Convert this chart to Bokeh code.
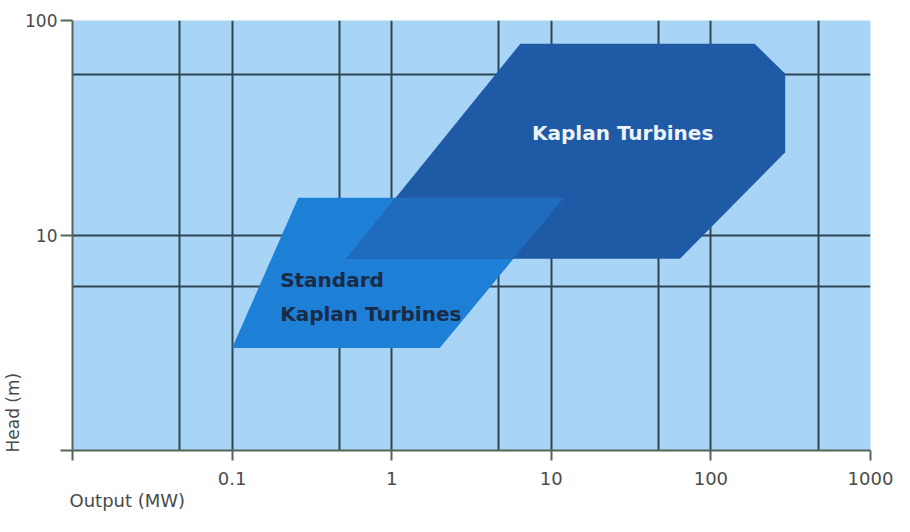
import math
from bokeh.plotting import figure
from bokeh.models import FixedTicker, CustomJSTickFormatter, Label, Title
from bokeh.embed import file_html
from bokeh.resources import INLINE

# ---- data ----
X_TICKS = [0.01, 0.1, 1, 10, 100, 1000]
X_TICK_LABELS = ["", "0.1", "1", "10", "100", "1000"]
Y_TICKS = [1, 10, 100]
Y_TICK_LABELS = ["", "10", "100"]
X_GRID = [0.01, 0.047, 0.1, 0.47, 1, 4.7, 10, 47, 100, 470, 1000]
Y_GRID = [1, 5.8, 10, 56, 100]

STD_X = [0.1, 2.0, 12.0, 0.26]
STD_Y = [3.0, 3.0, 15.0, 15.0]
KAP_X = [0.52, 6.4, 188.0, 292.0, 292.0, 64.0]
KAP_Y = [7.8, 78.0, 78.0, 56.5, 24.4, 7.8]

KAP_LABEL = ("Kaplan Turbines", 28.0, 30.0)
STD_LABEL_1 = ("Standard", 0.2, 6.2)
STD_LABEL_2 = ("Kaplan Turbines", 0.2, 4.3)

BG = "#a8d5f5"
STD_COLOR = "#1e7fd6"
KAP_COLOR = "#1e5aa6"
OVERLAP_COLOR = "#1f6bbd"
GRID_COLOR = "#2e4450"
AXIS_COLOR = "#55655a"
TEXT_GRAY = "#4a4a4a"


def clip_polygon(subject, clipper):
    """Sutherland-Hodgman clipping in log space (both convex)."""
    def area(poly):
        s = 0.0
        for i in range(len(poly)):
            x1, y1 = poly[i]
            x2, y2 = poly[(i + 1) % len(poly)]
            s += x1 * y2 - x2 * y1
        return s
    sign = 1.0 if area(clipper) > 0 else -1.0

    def inside(pt, a, b):
        return sign * ((b[0] - a[0]) * (pt[1] - a[1]) - (b[1] - a[1]) * (pt[0] - a[0])) >= 0

    def inter(p1, p2, a, b):
        x1, y1 = p1; x2, y2 = p2; x3, y3 = a; x4, y4 = b
        den = (x1 - x2) * (y3 - y4) - (y1 - y2) * (x3 - x4)
        t = ((x1 - x3) * (y3 - y4) - (y1 - y3) * (x3 - x4)) / den
        return (x1 + t * (x2 - x1), y1 + t * (y2 - y1))

    out = list(subject)
    for i in range(len(clipper)):
        a, b = clipper[i], clipper[(i + 1) % len(clipper)]
        inp, out = out, []
        if not inp:
            break
        for j in range(len(inp)):
            cur, prev = inp[j], inp[j - 1]
            if inside(cur, a, b):
                if not inside(prev, a, b):
                    out.append(inter(prev, cur, a, b))
                out.append(cur)
            elif inside(prev, a, b):
                out.append(inter(prev, cur, a, b))
    return out


def to_log(xs, ys):
    return [(math.log10(x), math.log10(y)) for x, y in zip(xs, ys)]


ov = clip_polygon(to_log(KAP_X, KAP_Y), to_log(STD_X, STD_Y))
OV_X = [10 ** q[0] for q in ov]
OV_Y = [10 ** q[1] for q in ov]

p = figure(width=894, height=516, x_axis_type="log", y_axis_type="log",
           x_range=(X_TICKS[0], X_TICKS[-1]), y_range=(Y_TICKS[0], Y_TICKS[-1]),
           output_backend="svg", toolbar_location=None,
           min_border_left=71, min_border_right=24, min_border_top=20, min_border_bottom=66)

p.background_fill_color = BG
p.border_fill_color = "white"
p.outline_line_color = None

# grid
for g, vals in ((p.xgrid, X_GRID), (p.ygrid, Y_GRID)):
    g.ticker = FixedTicker(ticks=vals)
    g.grid_line_color = GRID_COLOR
    g.grid_line_width = 2
    g.grid_line_alpha = 1.0

# shapes
p.patch(STD_X, STD_Y, fill_color=STD_COLOR, line_color=None)
p.patch(KAP_X, KAP_Y, fill_color=KAP_COLOR, line_color=None)
p.patch(OV_X, OV_Y, fill_color=OVERLAP_COLOR, line_color=None)

# axes
fmt_code = """
let best = 0, bd = Infinity;
for (let i = 0; i < vals.length; i++) {
  const d = Math.abs(Math.log10(tick) - Math.log10(vals[i]));
  if (d < bd) { bd = d; best = i; }
}
return labs[best];
"""
p.xaxis.ticker = FixedTicker(ticks=X_TICKS, minor_ticks=[])
p.xaxis.formatter = CustomJSTickFormatter(args=dict(vals=X_TICKS, labs=X_TICK_LABELS), code=fmt_code)
p.yaxis.ticker = FixedTicker(ticks=Y_TICKS, minor_ticks=[])
p.yaxis.formatter = CustomJSTickFormatter(args=dict(vals=Y_TICKS, labs=Y_TICK_LABELS), code=fmt_code)

for ax in (p.xaxis, p.yaxis):
    ax.axis_line_color = AXIS_COLOR
    ax.axis_line_width = 2
    ax.major_tick_line_color = AXIS_COLOR
    ax.major_tick_line_width = 2
    ax.major_tick_in = 0
    ax.minor_tick_line_color = None
    ax.major_label_text_font = "DejaVu Sans"
    ax.major_label_text_color = TEXT_GRAY
p.xaxis.major_label_text_font_size = "18px"
p.yaxis.major_label_text_font_size = "17px"
p.xaxis.major_tick_out = 10
p.xaxis.major_label_standoff = 11
p.yaxis.major_tick_out = 12
p.yaxis.major_label_standoff = 3

# axis titles (left aligned, as in the reference)
p.add_layout(Title(text="Output (MW)", align="left", standoff=0, offset=-3,
                   text_font="DejaVu Sans", text_font_style="normal",
                   text_font_size="18px", text_color=TEXT_GRAY), "below")
p.add_layout(Title(text="Head (m)", align="left", standoff=0, offset=-2,
                   text_font="DejaVu Sans", text_font_style="normal",
                   text_font_size="17px", text_color=TEXT_GRAY), "left")

# region labels
t, x, y = KAP_LABEL
p.add_layout(Label(x=x, y=y, text=t, text_align="center", text_baseline="middle",
                   text_font="DejaVu Sans", text_font_style="bold", text_font_size="20px",
                   text_color="#eef3f8"))
for t, x, y in (STD_LABEL_1, STD_LABEL_2):
    p.add_layout(Label(x=x, y=y, text=t, text_align="left", text_baseline="middle",
                       text_font="DejaVu Sans", text_font_style="bold", text_font_size="20px",
                       text_color="#1b2a45"))

open("out.html", "w").write(file_html(p, INLINE))
